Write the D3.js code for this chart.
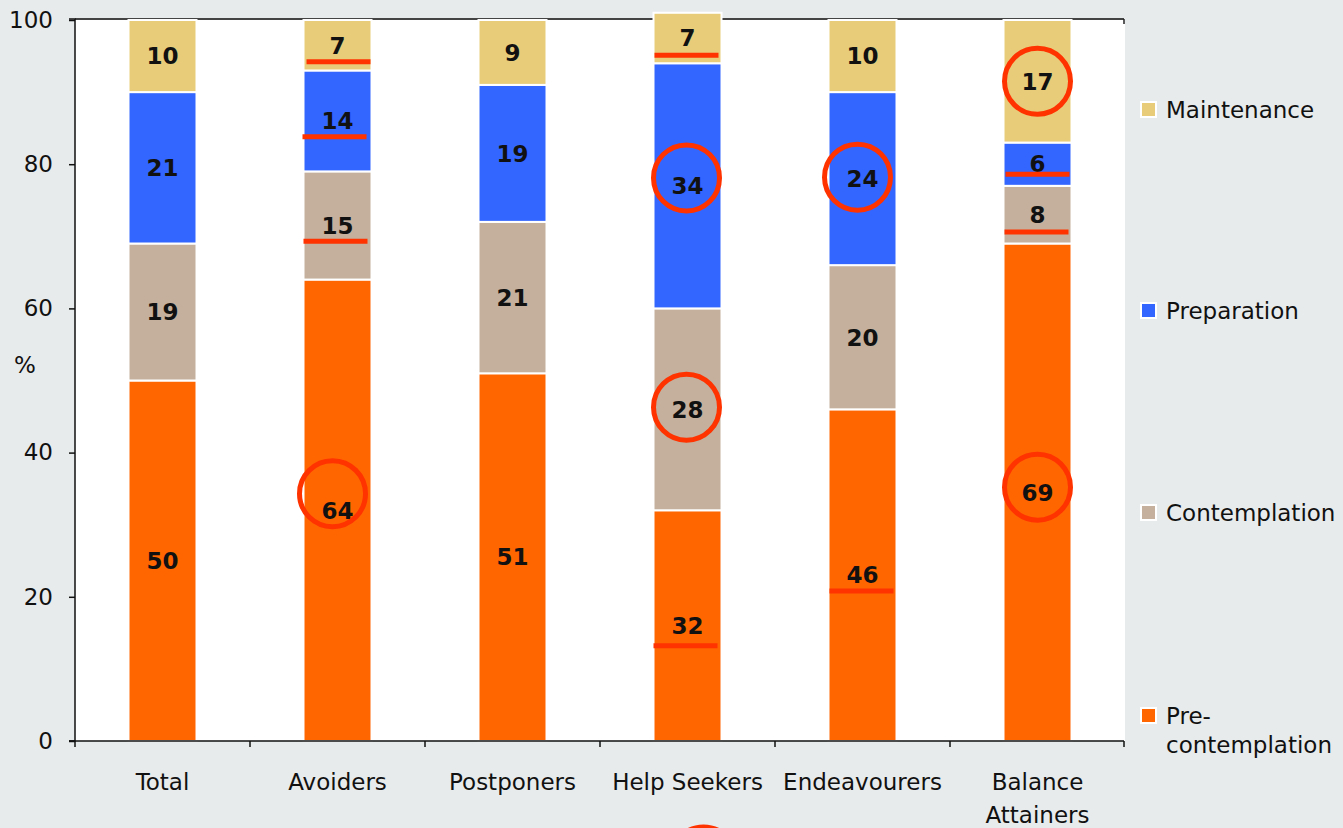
<!DOCTYPE html>
<html>
<head>
<meta charset="utf-8">
<script src="https://cdn.jsdelivr.net/npm/d3@7"></script>
<style>
  html, body { margin: 0; padding: 0; background: #e8ebec; }
  svg { display: block; }
  text { font-family: "DejaVu Sans", Verdana, sans-serif; fill: #111; }
</style>
</head>
<body>
<svg id="chart" width="1343" height="828"></svg>
<script>
// Segments and groups
const categories = ["Total", "Avoiders", "Postponers", "Help Seekers", "Endeavourers", "Balance Attainers"];
const stages = ["Pre-contemplation", "Contemplation", "Preparation", "Maintenance"];
const precontemplation = [50, 64, 51, 32, 46, 69];
const contemplation   = [19, 15, 21, 28, 20, 8];
const preparation     = [21, 14, 19, 34, 24, 6];
const maintenance     = [10, 7, 9, 7, 10, 17];
const yTicks = [0, 20, 40, 60, 80, 100];

// Hand-drawn highlights: circles and underlines, placed by group and % value
const circleMarks = [
  { cat: "Avoiders", v: 34.3, dx: -5 },
  { cat: "Help Seekers", v: 78.1, dx: -1 },
  { cat: "Help Seekers", v: 46.3, dx: -1 },
  { cat: "Endeavourers", v: 78.2, dx: -5 },
  { cat: "Balance Attainers", v: 91.5, dx: 0 },
  { cat: "Balance Attainers", v: 35.2, dx: 0 },
  { cat: "Help Seekers", v: -16.5, dx: 16 }
];
const underlineMarks = [
  { cat: "Avoiders", v: 94.2, dx: 1 },
  { cat: "Avoiders", v: 83.8, dx: -3 },
  { cat: "Avoiders", v: 69.3, dx: -2 },
  { cat: "Help Seekers", v: 95.1, dx: -1 },
  { cat: "Help Seekers", v: 13.2, dx: -2 },
  { cat: "Endeavourers", v: 20.8, dx: -1 },
  { cat: "Balance Attainers", v: 78.6, dx: 0 },
  { cat: "Balance Attainers", v: 70.6, dx: -1 }
];

const colors = {
  "Pre-contemplation": "#ff6600",
  "Contemplation": "#c4b09c",
  "Preparation": "#3366ff",
  "Maintenance": "#e8cc7a"
};
const seriesValues = {
  "Pre-contemplation": precontemplation,
  "Contemplation": contemplation,
  "Preparation": preparation,
  "Maintenance": maintenance
};

const rows = categories.map((c, i) => {
  const r = { cat: c };
  stages.forEach(s => r[s] = seriesValues[s][i]);
  return r;
});

const svg = d3.select("#chart");
const plot = { left: 75, right: 1125, top: 19, bottom: 741 };

const x = d3.scaleBand().domain(categories).range([plot.left, plot.right]).paddingInner(0).paddingOuter(0);
const y = d3.scaleLinear().domain([0, 100]).range([plot.bottom, plot.top + 1]);
const barW = 68;

// Plot background
svg.append("rect")
  .attr("x", plot.left).attr("y", plot.top)
  .attr("width", plot.right - plot.left).attr("height", plot.bottom - plot.top)
  .attr("fill", "#ffffff");

// Top frame line
svg.append("line")
  .attr("x1", plot.left).attr("x2", plot.right - 1)
  .attr("y1", plot.top).attr("y2", plot.top)
  .attr("stroke", "#444").attr("stroke-width", 2);
svg.append("line")
  .attr("x1", plot.right - 1).attr("x2", plot.right - 1)
  .attr("y1", plot.top).attr("y2", plot.top + 5)
  .attr("stroke", "#222").attr("stroke-width", 1.5);

// Stacked bars
const stacked = d3.stack().keys(stages)(rows);
const groups = svg.append("g").selectAll("g").data(stacked).join("g")
  .attr("fill", d => colors[d.key]);
groups.selectAll("rect").data(d => d.map(p => ({ p, key: d.key }))).join("rect")
  .attr("x", d => x(d.p.data.cat) + x.bandwidth() / 2 - barW / 2)
  .attr("width", barW)
  .attr("y", d => y(d.p[1]))
  .attr("height", d => y(d.p[0]) - y(d.p[1]))
  .attr("stroke", "#ffffff").attr("stroke-width", 2);

// Value labels
svg.append("g").selectAll("text")
  .data(stacked.flatMap(s => s.map(p => ({ p, key: s.key }))))
  .join("text")
  .attr("x", d => x(d.p.data.cat) + x.bandwidth() / 2)
  .attr("y", d => (y(d.p[0]) + y(d.p[1])) / 2)
  .attr("dy", "0.36em")
  .attr("text-anchor", "middle")
  .attr("font-weight", "bold")
  .attr("font-size", 23)
  .text(d => d.p.data[d.key]);

// Axes
const yAxis = d3.axisLeft(y).tickValues(yTicks).tickSize(6).tickPadding(16);
const gy = svg.append("g").attr("transform", `translate(${plot.left},0)`).call(yAxis);
gy.select(".domain").attr("stroke", "#111").attr("stroke-width", 1.5).attr("d", `M-6,${plot.top}H0V${plot.bottom}H-6`);
gy.selectAll(".tick line").attr("stroke", "#111").attr("stroke-width", 1.5);
gy.selectAll(".tick text").attr("font-size", 23).attr("fill", "#111")
  .style("font-family", "'DejaVu Sans', Verdana, sans-serif");

const bandTicks = categories.map(c => x(c)).concat([plot.right - 1]);
const gx = svg.append("g");
gx.append("line")
  .attr("x1", plot.left - 6).attr("x2", plot.right - 1)
  .attr("y1", plot.bottom).attr("y2", plot.bottom)
  .attr("stroke", "#111").attr("stroke-width", 1.5);
gx.selectAll("line.t").data(bandTicks).join("line").attr("class", "t")
  .attr("x1", d => d).attr("x2", d => d)
  .attr("y1", plot.bottom).attr("y2", plot.bottom + 6)
  .attr("stroke", "#111").attr("stroke-width", 1.5);

const xLabelLines = { "Balance Attainers": ["Balance", "Attainers"] };
categories.forEach(c => {
  const lines = xLabelLines[c] || [c];
  const t = svg.append("text")
    .attr("x", x(c) + x.bandwidth() / 2)
    .attr("y", 790)
    .attr("text-anchor", "middle")
    .attr("font-size", 23);
  lines.forEach((l, i) => t.append("tspan")
    .attr("x", x(c) + x.bandwidth() / 2)
    .attr("dy", i === 0 ? 0 : 33)
    .text(l));
});

// Y axis title
svg.append("text").attr("x", 25).attr("y", 373).attr("text-anchor", "middle")
  .attr("font-size", 23).text("%");

// Legend (top to bottom: Maintenance ... Pre-contemplation)
const legendOrder = stages.slice().reverse();
const legendY = [110, 311, 513, 716];
const lg = svg.append("g");
legendOrder.forEach((s, i) => {
  lg.append("rect")
    .attr("x", 1141).attr("y", legendY[i] - 8)
    .attr("width", 15).attr("height", 15)
    .attr("fill", colors[s]).attr("stroke", "#ffffff").attr("stroke-width", 2);
  const t = lg.append("text").attr("x", 1166).attr("y", legendY[i]).attr("dy", "0.36em")
    .attr("font-size", 23);
  const parts = s === "Pre-contemplation" ? ["Pre-", "contemplation"] : [s];
  parts.forEach((p, j) => t.append("tspan").attr("x", 1166).attr("dy", j === 0 ? "0.36em" : 29).text(p));
});

// Highlights
const hl = svg.append("g");
hl.selectAll("circle").data(circleMarks).join("circle")
  .attr("cx", d => x(d.cat) + x.bandwidth() / 2 + d.dx)
  .attr("cy", d => y(d.v))
  .attr("r", 33)
  .attr("fill", "none")
  .attr("stroke", "#ff3300")
  .attr("stroke-width", 5);
hl.selectAll("line").data(underlineMarks).join("line")
  .attr("x1", d => x(d.cat) + x.bandwidth() / 2 + d.dx - 32)
  .attr("x2", d => x(d.cat) + x.bandwidth() / 2 + d.dx + 32)
  .attr("y1", d => y(d.v)).attr("y2", d => y(d.v))
  .attr("stroke", "#ff3300")
  .attr("stroke-width", 5);
</script>
</body>
</html>
